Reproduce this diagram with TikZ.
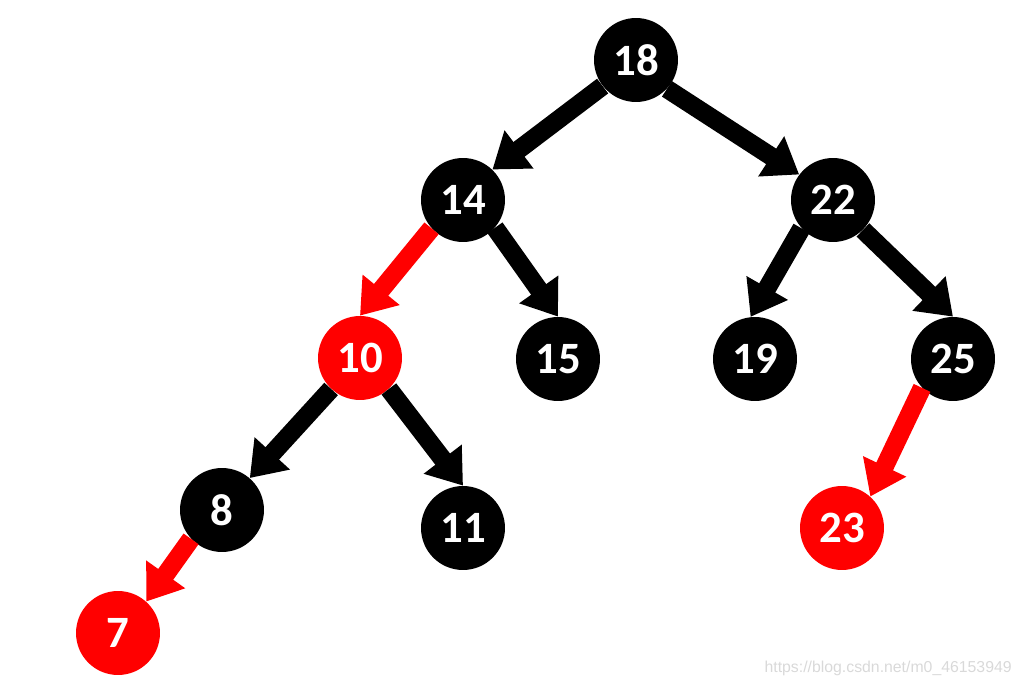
\documentclass[tikz,border=0pt]{standalone}
\usepackage{fontspec}
\setmainfont{Carlito}
\newfontfamily\wmfont{Liberation Sans}
\usetikzlibrary{arrows.meta}

\begin{document}
\begin{tikzpicture}[
        x=0.02cm, y=-0.02cm,
        every node/.style={circle, fill=black, text=white, minimum size=1.68cm, inner sep=0pt,
            font=\fontsize{25.5}{30}\selectfont\bfseries},
        rednode/.style={fill=red},
        blackarrow/.style={draw=black, line width=10.5pt, -{Triangle[width=26pt,length=19pt]}},
        redarrow/.style={blackarrow, draw=red, fill=red}
    ]
        \useasboundingbox (0,0) rectangle (1022,692);

        % Các nút của cây
        \node (root) at (636,60) {18};
        \node (n14) at (463,200) {14};
        \node (n22) at (833,200) {22};
        \node [rednode](n10) at (360,358) {10};
        \node (n15) at (558,359) {15};
        \node (n19) at (755,359) {19};
        \node (n25) at (953,359) {25};
        \node (n8) at (222,510) {8};
        \node (n11) at (463,528) {11};
        \node [rednode](n23) at (842,528) {23};
        \node [rednode](n7) at (118,633) {7};

        % Các mũi tên
        \draw[blackarrow] (root.218) -- (n14.46);
        \draw[blackarrow] (root.-43) -- (n22.143);
        \draw[redarrow] (n14.222) -- (n10.north);
        \draw[blackarrow] (n14.-41) -- (n15.north);
        \draw[blackarrow] (n22.222) -- (n19.96);
        \draw[blackarrow] (n22.-45) -- (n25.north);
        \draw[blackarrow] (n10.227) -- (n8.49);
        \draw[blackarrow] (n10.-47) -- (n11.north);
        \draw[redarrow] (n25.223) -- (n23.48);
        \draw[redarrow] (n8.223) -- (n7.48);

        \node [rectangle, fill=none, minimum size=0pt, text=gray!30, anchor=east,
            font=\wmfont\fontsize{9}{10}\selectfont] (wm) at (1012,668) {https://blog.csdn.net/m0\_46153949};
    \end{tikzpicture}
\end{document}
